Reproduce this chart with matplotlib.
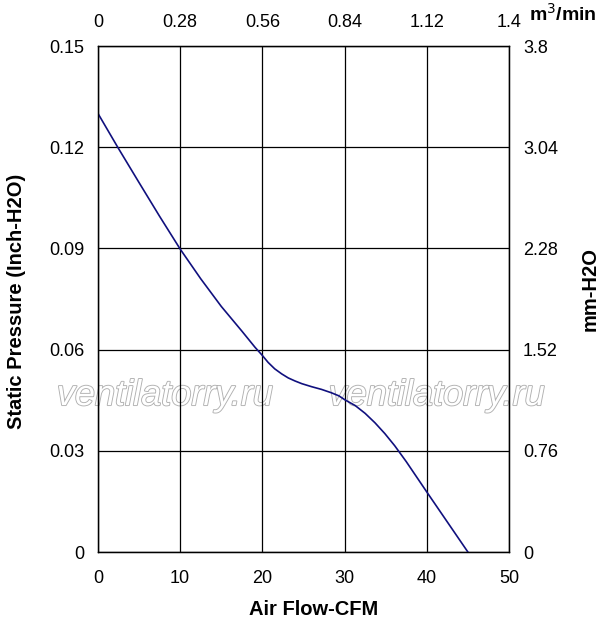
import matplotlib
matplotlib.use("Agg")
import matplotlib.pyplot as plt
import matplotlib.patheffects as pe

plt.rcParams['font.family'] = ['Liberation Sans', 'DejaVu Sans']

# curve
flow_cfm = [0, 2.4, 5, 7.5, 10, 12.5, 15, 17.5, 19.1, 19.95, 20.7, 21.5,
            22.35, 23.15, 23.97, 24.8, 26.0, 27.2, 28.4, 29.3, 30.05, 31.3,
            32.5, 33.7, 34.9, 36.1, 37.5, 40, 42.5, 45]
pressure_inch = [0.130, 0.120, 0.1095, 0.0995, 0.0898, 0.081, 0.0728, 0.0655,
                 0.0607, 0.0584, 0.0562, 0.0543, 0.0528, 0.0516, 0.0507,
                 0.0499, 0.0490, 0.0482, 0.0472, 0.0463, 0.0451, 0.0434,
                 0.0411, 0.0383, 0.0351, 0.0315, 0.0268, 0.0178, 0.0089, 0.0]

cfm_ticks = [0, 10, 20, 30, 40, 50]
inch_ticks = [0, 0.03, 0.06, 0.09, 0.12, 0.15]
inch_labels = ["0", "0.03", "0.06", "0.09", "0.12", "0.15"]
m3_ticks = [0, 0.28, 0.56, 0.84, 1.12, 1.4]
m3_labels = ["0", "0.28", "0.56", "0.84", "1.12", "1.4"]
mm_ticks = [0, 0.76, 1.52, 2.28, 3.04, 3.8]
mm_labels = ["0", "0.76", "1.52", "2.28", "3.04", "3.8"]

fig = plt.figure(figsize=(6.0, 6.26), dpi=100)
ax = fig.add_axes([0.1633, 0.1182, 0.685, 0.8083])

ax.plot(flow_cfm, pressure_inch, color="#10107e", lw=1.2, zorder=3,
        solid_joinstyle="round")
ax.set_xlim(0, 50)
ax.set_ylim(0, 0.15)
ax.set_xticks(cfm_ticks)
ax.set_yticks(inch_ticks)
ax.set_yticklabels(inch_labels)
ax.grid(True, color="black", lw=0.9)
ax.tick_params(length=0, labelsize=13)
ax.tick_params(axis="x", pad=13)
ax.tick_params(axis="y", pad=10)
for s in ax.spines.values():
    s.set_color("#333333")
    s.set_linewidth(1.0)

ax_top = ax.twiny()
ax_top.set_xlim(0, 1.4)
ax_top.set_xticks(m3_ticks)
ax_top.set_xticklabels(m3_labels)
ax_top.tick_params(length=0, labelsize=13, pad=11)

ax_right = ax.twinx()
ax_right.set_ylim(0, 3.8)
ax_right.set_yticks(mm_ticks)
ax_right.set_yticklabels(mm_labels)
ax_right.tick_params(length=0, labelsize=13, pad=10)

fig.text(0.5225, 0.026, "Air Flow-CFM", fontsize=14.5, fontweight="bold",
         ha="center", va="center")
fig.text(0.027, 0.519, "Static Pressure (Inch-H2O)", rotation=90,
         fontsize=14.5, fontweight="bold", ha="center", va="center")
fig.text(0.983, 0.538, "mm-H2O", rotation=90, fontsize=14.5,
         fontweight="bold", ha="center", va="center")
fig.text(0.995, 0.978, "m$^3$/min", fontsize=14, fontweight="bold",
         ha="right", va="center")

# outlined watermark
for xc in [0.275, 0.728]:
    ax.text(xc, 0.368, "ventilatorry.ru", transform=fig.transFigure,
            fontsize=26, style="italic", color="white", ha="center",
            va="center", zorder=0.5,
            path_effects=[pe.withStroke(linewidth=1.3, foreground="#b0b0b0")])

fig.savefig("out.png", dpi=100)
